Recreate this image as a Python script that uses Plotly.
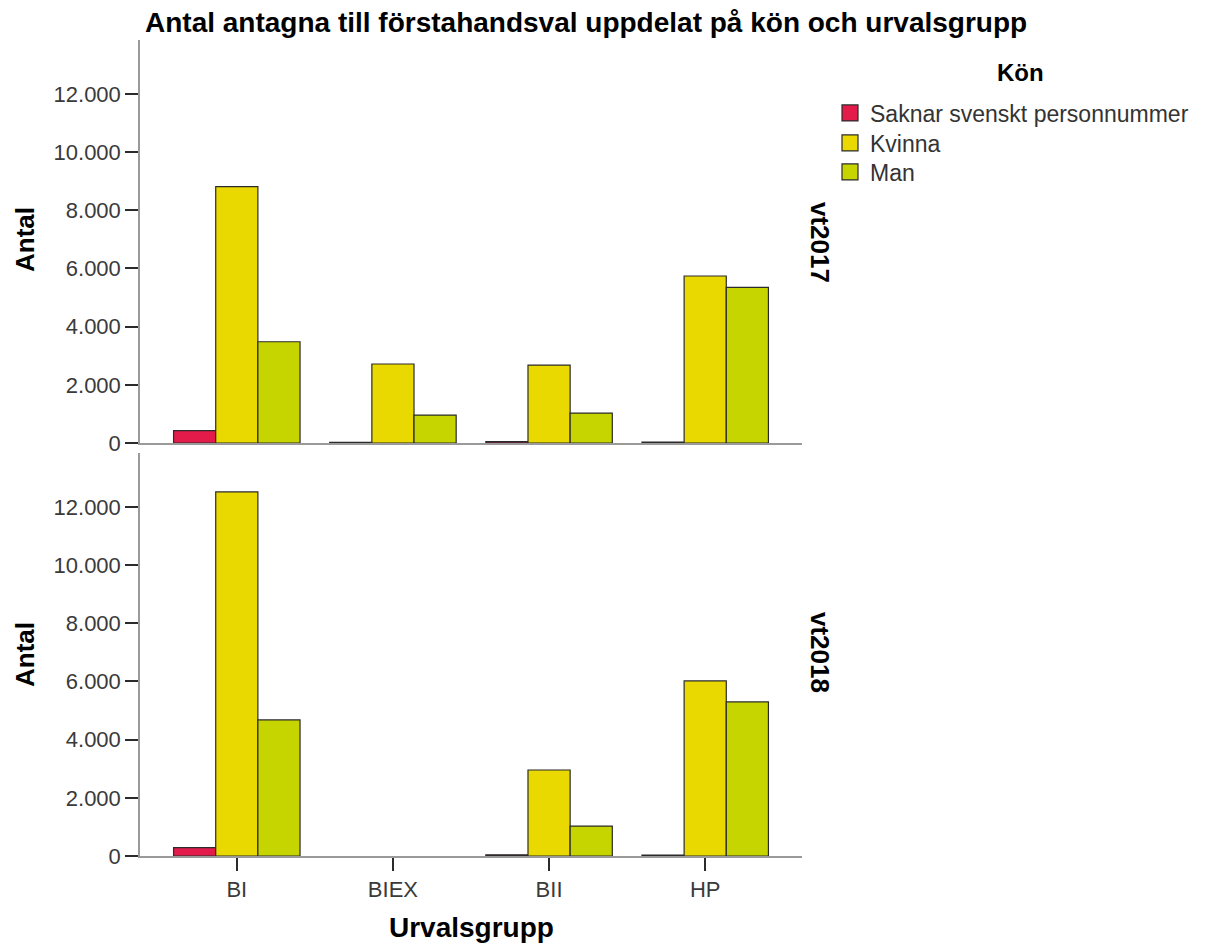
import plotly.graph_objects as go

categories = ["BI", "BIEX", "BII", "HP"]
series_names = ["Saknar svenskt personnummer", "Kvinna", "Man"]
colors = ["#E31B4B", "#EAD900", "#C6D500"]

vt2017_saknar = [425, 20, 50, 35]
vt2017_kvinna = [8810, 2715, 2680, 5740]
vt2017_man = [3480, 960, 1030, 5350]

vt2018_saknar = [285, None, 40, 30]
vt2018_kvinna = [12510, None, 2955, 6015]
vt2018_man = [4675, None, 1030, 5295]

panels = ["vt2017", "vt2018"]
data = {
    "vt2017": [vt2017_saknar, vt2017_kvinna, vt2017_man],
    "vt2018": [vt2018_saknar, vt2018_kvinna, vt2018_man],
}

FONT = "Liberation Sans"
EDGE = "#2b2b2b"
fig = go.Figure()

axes = {"vt2017": ("x2", "y2"), "vt2018": ("x", "y")}
for p in panels:
    xa, ya = axes[p]
    for i, name in enumerate(series_names):
        fig.add_trace(go.Bar(
            x=categories, y=data[p][i], name=name,
            marker=dict(color=colors[i], line=dict(color=EDGE, width=1.2)),
            xaxis=xa, yaxis=ya, showlegend=False,
        ))

# legend entries (larger square swatches), one legend per row for exact spacing
legend_ids = ["legend", "legend2", "legend3"]
legend_rows_px = [113, 143, 172]
for i, name in enumerate(series_names):
    fig.add_trace(go.Scatter(
        x=[None], y=[None], mode="markers", name=name,
        marker=dict(symbol="square", size=18, color=colors[i], line=dict(color=EDGE, width=1.2)),
        xaxis="x2", yaxis="y2", showlegend=True, hoverinfo="skip", legend=legend_ids[i],
    ))

tickfont = dict(family=FONT, size=22, color="#3a3a3a")
common_y = dict(
    showgrid=False, zeroline=False, showline=True, linecolor="#9a9a9a", linewidth=1.5,
    ticks="outside", ticklen=13, tickcolor="#2b2b2b", tickwidth=1.5,
    tickvals=[0, 2000, 4000, 6000, 8000, 10000, 12000], tickformat=",d",
    tickfont=tickfont, range=[0, 13850],
)
common_x = dict(
    showgrid=False, zeroline=False, showline=True, linecolor="#9a9a9a", linewidth=1.5,
    range=[-0.62, 3.62], type="category", categoryorder="array", categoryarray=categories,
)

fig.update_layout(
    width=1206, height=946,
    paper_bgcolor="white", plot_bgcolor="white",
    separators=",.",
    margin=dict(l=132, r=412, t=32, b=98),
    barmode="group", bargap=0.19, bargroupgap=0,
    xaxis=dict(**common_x, domain=[0, 1], anchor="y",
               ticks="outside", ticklen=13, tickcolor="#2b2b2b", tickwidth=1.5,
               tickfont=tickfont),
    yaxis=dict(**common_y, domain=[0, 0.4939], anchor="x"),
    xaxis2=dict(**common_x, domain=[0, 1], anchor="y2", showticklabels=False, ticks=""),
    yaxis2=dict(**common_y, domain=[0.5061, 1], anchor="x2"),
    title=dict(text="<b>Antal antagna till förstahandsval uppdelat på kön och urvalsgrupp</b>",
               x=137 / 1206, xanchor="left", y=1 - 14 / 946, yanchor="middle",
               font=dict(family=FONT, size=28, color="black")),
    showlegend=True,
)

for lid, row in zip(legend_ids, legend_rows_px):
    fig.update_layout({lid: dict(
        x=(830 - 140) / 662, xanchor="left", y=(856 - row) / 816, yanchor="middle",
        font=dict(family=FONT, size=23, color="#333333"),
        bgcolor="rgba(0,0,0,0)", itemsizing="trace",
    )})

annotations = [
    dict(text="<b>Antal</b>", x=(25 - 140) / 662, y=(856 - 240) / 816, xref="paper", yref="paper",
         xanchor="center", yanchor="middle",
         textangle=-90, showarrow=False, font=dict(family=FONT, size=26, color="black")),
    dict(text="<b>Antal</b>", x=(25 - 140) / 662, y=(856 - 655) / 816, xref="paper", yref="paper",
         xanchor="center", yanchor="middle",
         textangle=-90, showarrow=False, font=dict(family=FONT, size=26, color="black")),
    dict(text="<b>vt2017</b>", x=(820 - 140) / 662, y=(856 - 242) / 816, xref="paper", yref="paper",
         xanchor="center", yanchor="middle",
         textangle=90, showarrow=False, font=dict(family=FONT, size=26, color="black")),
    dict(text="<b>vt2018</b>", x=(820 - 140) / 662, y=(856 - 652) / 816, xref="paper", yref="paper",
         xanchor="center", yanchor="middle",
         textangle=90, showarrow=False, font=dict(family=FONT, size=26, color="black")),
    dict(text="<b>Urvalsgrupp</b>", x=(471 - 140) / 662, y=(856 - 928) / 816, xref="paper", yref="paper",
         xanchor="center", yanchor="middle",
         showarrow=False, font=dict(family=FONT, size=28, color="black")),
    dict(text="<b>Kön</b>", x=(1020 - 140) / 662, y=(856 - 73) / 816, xref="paper", yref="paper",
         xanchor="center", yanchor="middle",
         showarrow=False, font=dict(family=FONT, size=24, color="black")),
]
fig.update_layout(annotations=annotations)

fig.write_html("out.html")
